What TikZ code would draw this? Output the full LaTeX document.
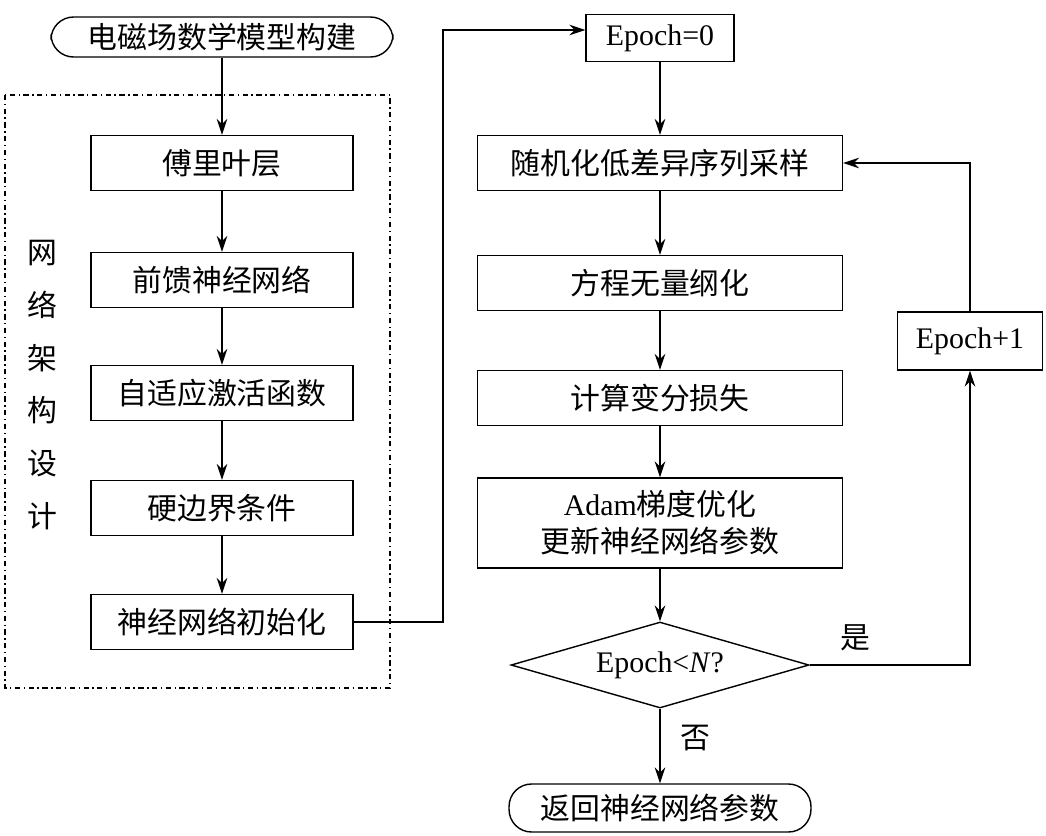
\documentclass[tikz,border=0pt]{standalone}
\usepackage{fontspec}
\setmainfont{Liberation Serif}
\newfontfamily\cjk{Noto Sans CJK SC}
\usetikzlibrary{shapes.geometric,arrows.meta}
\begin{document}
\begin{tikzpicture}[x=0.02cm,y=-0.02cm,
  every node/.style={font=\fontsize{17}{21}\selectfont},
  box/.style={draw,line width=0.8pt,minimum height=1.1cm,inner sep=2pt},
  rbox/.style={draw,line width=0.8pt,rounded corners=0.45cm,minimum height=0.8cm},
  arr/.style={line width=0.8pt,-{Stealth[length=9pt,width=6pt]}}]
\useasboundingbox (0,0) rectangle (1046,836);
\draw[line width=0.8pt,dash dot] (5,95) rectangle (390,688);
\node[rbox,minimum width=6.84cm] (top) at (222,37) {\cjk 电磁场数学模型构建};
\node[box,minimum width=5.24cm] (a1) at (222,163) {\cjk 傅里叶层};
\node[box,minimum width=5.24cm] (a2) at (222,280) {\cjk 前馈神经网络};
\node[box,minimum width=5.24cm] (a3) at (222,393) {\cjk 自适应激活函数};
\node[box,minimum width=5.24cm] (a4) at (222,508) {\cjk 硬边界条件};
\node[box,minimum width=5.24cm] (a5) at (222,622) {\cjk 神经网络初始化};
\node[align=center,font=\cjk\fontsize{17}{30}\selectfont] (v) at (42,385) {网\\络\\架\\构\\设\\计};
\node[box,minimum width=2.96cm,minimum height=0.94cm] (e0) at (660,38) {Epoch=0};
\node[box,minimum width=7.3cm] (b1) at (660,163) {\cjk 随机化低差异序列采样};
\node[box,minimum width=7.3cm] (b2) at (660,283) {\cjk 方程无量纲化};
\node[box,minimum width=7.3cm] (b3) at (660,398) {\cjk 计算变分损失};
\node[box,minimum width=7.3cm,minimum height=1.8cm,align=center] (b4) at (660,523) {Adam{\cjk 梯度优化}\\{\cjk 更新神经网络参数}};
\node[diamond,draw,line width=0.8pt,aspect=3.5,minimum width=5.96cm,minimum height=1.72cm,inner sep=0pt] (d) at (660,665) {Epoch<\textit{N}?};
\node[rbox,minimum width=6.04cm,minimum height=0.96cm] (ret) at (660,808) {\cjk 返回神经网络参数};
\node[box,minimum width=2.9cm,minimum height=1.16cm] (e1) at (970,341) {Epoch+1};
\draw[arr] (top) -- (a1);
\draw[arr] (a1) -- (a2);
\draw[arr] (a2) -- (a3);
\draw[arr] (a3) -- (a4);
\draw[arr] (a4) -- (a5);
\draw[arr] (a5.east) -- (443,622) -- (443,30) -- (e0.west |- 0,30);
\draw[arr] (e0) -- (b1);
\draw[arr] (b1) -- (b2);
\draw[arr] (b2) -- (b3);
\draw[arr] (b3) -- (b4);
\draw[arr] (b4) -- (d);
\draw[arr] (d.east) -- (970,665) -- (e1.south);
\draw[arr] (e1.north) -- (970,163) -- (b1.east);
\draw[arr] (d.south) -- (ret.north);
\node at (855,638) {\cjk 是};
\node at (695,738) {\cjk 否};
\end{tikzpicture}
\end{document}
